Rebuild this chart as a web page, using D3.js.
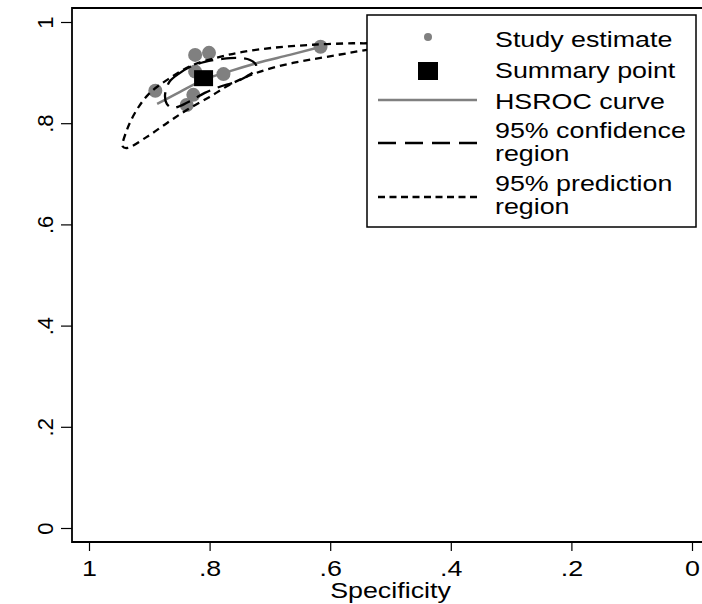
<!DOCTYPE html>
<html>
<head>
<meta charset="utf-8">
<script src="https://cdn.jsdelivr.net/npm/d3@7"></script>
<style>
  body { margin: 0; background: #fff; }
  text { font-family: "Liberation Sans", Arial, Helvetica, sans-serif; font-size: 22px; fill: #000; }
</style>
</head>
<body>
<div id="container"></div>
<script>
// data (specificity, sensitivity)
const studySpec = [0.890, 0.824, 0.801, 0.824, 0.777, 0.827, 0.838, 0.616];
const studySens = [0.864, 0.935, 0.939, 0.902, 0.897, 0.856, 0.836, 0.951];

const summarySpec = 0.810;
const summarySens = 0.889;

const curveSpec = [0.887, 0.849, 0.811, 0.766, 0.721, 0.667, 0.615];
const curveSens = [0.838, 0.862, 0.885, 0.903, 0.919, 0.935, 0.951];

const confSpec = [0.866, 0.852, 0.833, 0.808, 0.779, 0.753, 0.733, 0.723, 0.726, 0.738, 0.758, 0.783, 0.808, 0.829, 0.849, 0.862, 0.871, 0.874, 0.871];
const confSens = [0.883, 0.897, 0.911, 0.921, 0.927, 0.929, 0.925, 0.915, 0.903, 0.893, 0.881, 0.872, 0.860, 0.846, 0.834, 0.830, 0.838, 0.854, 0.870];

// prediction region: top edge right->left, then bottom edge left->right (right end hidden by legend)
const predSpec = [0.45, 0.539, 0.562, 0.629, 0.695, 0.745, 0.783, 0.828, 0.866, 0.899, 0.921, 0.937, 0.944,
                  0.937, 0.904, 0.871, 0.838, 0.800, 0.762, 0.716, 0.662, 0.606, 0.539];
const predSens = [0.962, 0.958, 0.958, 0.955, 0.949, 0.941, 0.931, 0.915, 0.889, 0.860, 0.826, 0.787, 0.754,
                  0.751, 0.773, 0.800, 0.826, 0.852, 0.879, 0.902, 0.919, 0.931, 0.945];

const tickVals = [0, 0.2, 0.4, 0.6, 0.8, 1];
const legendLabels = [["Study estimate"], ["Summary point"], ["HSROC curve"],
                      ["95% confidence", "region"], ["95% prediction", "region"]];

const width = 702, height = 604;
const stretch = "scale(1.22,1)";
const gray = "#808080";

const svg = d3.select("#container").append("svg")
  .attr("width", width).attr("height", height);

const x = d3.scaleLinear().domain([1, 0]).range([89, 692]);
const y = d3.scaleLinear().domain([0, 1]).range([528, 22]);

const fmt = d => d === 0 ? "0" : d === 1 ? "1" : d3.format(".1f")(d).replace("0.", ".");

// axes
const xAxis = svg.append("g")
  .attr("transform", "translate(0,542)")
  .call(d3.axisBottom(x).tickValues(tickVals).tickSize(9).tickFormat(fmt));
xAxis.select(".domain").remove();
xAxis.selectAll("line").attr("stroke", "#000").attr("stroke-width", 1.2);
xAxis.selectAll("text")
  .attr("y", 0).attr("dy", 0)
  .attr("transform", "translate(0,34) " + stretch)
  .style("font-size", "22px").style("font-family", "Liberation Sans, Arial, sans-serif");

const yAxis = svg.append("g")
  .attr("transform", "translate(72,0)")
  .call(d3.axisLeft(y).tickValues(tickVals).tickSize(11).tickFormat(fmt));
yAxis.select(".domain").remove();
yAxis.selectAll("line").attr("stroke", "#000").attr("stroke-width", 1.2);
yAxis.selectAll("text")
  .attr("x", 0).attr("dy", 0)
  .attr("text-anchor", "middle")
  .attr("transform", "translate(-19,0) rotate(-90)")
  .style("font-size", "22px").style("font-family", "Liberation Sans, Arial, sans-serif");

svg.append("text")
  .attr("text-anchor", "middle")
  .attr("transform", `translate(${(x(1) + x(0)) / 2},598) ` + stretch)
  .text("Specificity");

// frame
svg.append("path")
  .attr("d", "M702,8H72V542H702")
  .attr("fill", "none").attr("stroke", "#000").attr("stroke-width", 1.8);

// study points
svg.selectAll("circle.study")
  .data(studySpec.map((s, i) => [s, studySens[i]]))
  .join("circle")
  .attr("class", "study")
  .attr("cx", d => x(d[0])).attr("cy", d => y(d[1]))
  .attr("r", 7).attr("fill", gray);

// HSROC curve
svg.append("path")
  .datum(curveSpec.map((s, i) => [s, curveSens[i]]))
  .attr("d", d3.line().x(d => x(d[0])).y(d => y(d[1])).curve(d3.curveMonotoneX))
  .attr("fill", "none").attr("stroke", gray).attr("stroke-width", 2.5);

// confidence region
svg.append("path")
  .datum(confSpec.map((s, i) => [s, confSens[i]]))
  .attr("d", d3.line().x(d => x(d[0])).y(d => y(d[1])).curve(d3.curveCatmullRomClosed))
  .attr("fill", "none").attr("stroke", "#000").attr("stroke-width", 2.3)
  .attr("stroke-dasharray", "15,8");

// prediction region
svg.append("path")
  .datum(predSpec.map((s, i) => [s, predSens[i]]))
  .attr("d", d3.line().x(d => x(d[0])).y(d => y(d[1])).curve(d3.curveCatmullRomClosed))
  .attr("fill", "none").attr("stroke", "#000").attr("stroke-width", 2.3)
  .attr("stroke-dasharray", "7,5");

// summary point
svg.append("rect")
  .attr("x", x(summarySpec) - 9.5).attr("y", y(summarySens) - 8)
  .attr("width", 19).attr("height", 16)
  .attr("fill", "#000");

// legend
const legend = svg.append("g");
legend.append("rect")
  .attr("x", 367).attr("y", 15).attr("width", 329).attr("height", 212)
  .attr("fill", "#fff").attr("stroke", "#000").attr("stroke-width", 1.5);

const baselines = [[47], [78], [109], [138, 161], [191, 214]];
legendLabels.forEach((lines, i) => {
  lines.forEach((t, j) => {
    legend.append("text")
      .attr("transform", `translate(495,${baselines[i][j]}) ` + stretch)
      .text(t);
  });
});

legend.append("circle").attr("cx", 428).attr("cy", 37).attr("r", 4).attr("fill", gray);
legend.append("rect").attr("x", 418).attr("y", 62).attr("width", 20).attr("height", 18).attr("fill", "#000");
legend.append("line").attr("x1", 378).attr("x2", 477).attr("y1", 100).attr("y2", 100)
  .attr("stroke", gray).attr("stroke-width", 2.5);
legend.append("line").attr("x1", 378).attr("x2", 477).attr("y1", 143).attr("y2", 143)
  .attr("stroke", "#000").attr("stroke-width", 2.3).attr("stroke-dasharray", "18,9");
legend.append("line").attr("x1", 378).attr("x2", 477).attr("y1", 197).attr("y2", 197)
  .attr("stroke", "#000").attr("stroke-width", 2.3).attr("stroke-dasharray", "7,4.5");
</script>
</body>
</html>
